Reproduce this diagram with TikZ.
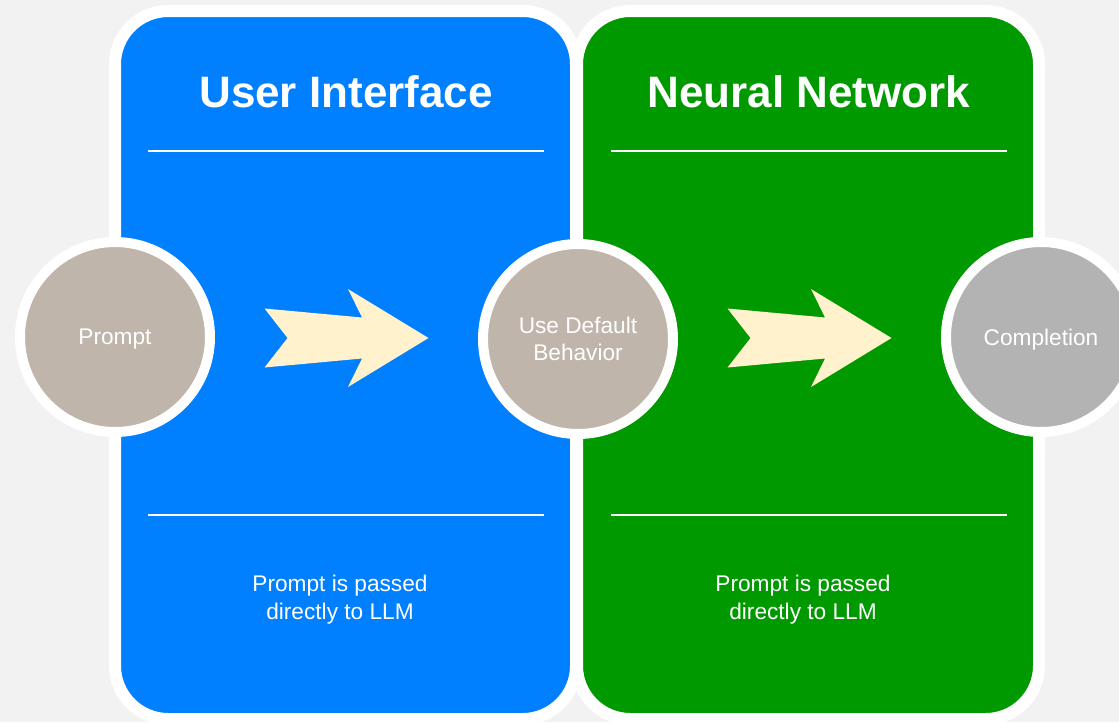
\documentclass[tikz,border=0pt]{standalone}
\usepackage{fontspec}
\setmainfont{Liberation Sans}
\usetikzlibrary{calc}
\definecolor{uiblue}{RGB}{0,127,255}
\definecolor{nngreen}{RGB}{0,153,0}
\definecolor{stone}{RGB}{191,181,171}
\definecolor{ash}{RGB}{179,179,179}
\definecolor{cream}{RGB}{255,242,204}
\definecolor{paper}{RGB}{242,242,242}
\tikzset{
  bigarrow/.pic={
    \fill[cream] (-82,-29.5) -- (-59,0) -- (-82,29.5) -- (15.5,20.5) -- (1.5,49)
      -- (82,0) -- (1.5,-49) -- (15.5,-20.5) -- cycle;
  }
}
\begin{document}
\begin{tikzpicture}[x=0.75pt,y=-0.75pt,
  panel/.style={draw=white,line width=9pt,rounded corners=40pt},
  stage/.style={circle,draw=white,line width=7.5pt,minimum size=142.5pt,inner sep=0pt,
    text=white,align=center,text depth=0pt,font=\fontsize{17}{20}\selectfont},
  title/.style={text=white,font=\fontsize{33}{40}\selectfont\bfseries,anchor=base},
  note/.style={text=white,align=center,font=\fontsize{17}{21}\selectfont},
  divider/.style={white,line width=1.5pt}]
\useasboundingbox (0,0) rectangle (1119,722);
\fill[paper] (0,0) rectangle (1119,722);
\clip (0,0) rectangle (1119,722);

% Panels
\draw[panel,fill=uiblue] (115,11) rectangle (576,719);
\draw[panel,fill=nngreen] (577,11) rectangle (1039,719);

% Panel headings
\node[title] (uititle) at (346,107) {User Interface};
\node[title] (nntitle) at (809,107) {Neural Network};

% Dividers
\foreach \x in {346,809} {
    \draw[divider] (\x-198,151) -- (\x+198,151);
    \draw[divider] (\x-198,515) -- (\x+198,515);
}

% Stages
\node[stage,fill=stone] (prompt) at (115,337) {Prompt};
\node[stage,fill=stone] (default) at (578,339) {Use Default\\Behavior};
\node[stage,fill=ash] (completion) at (1041,337) {Completion};

% Flow arrows
\pic at ($(prompt)!0.5!(default)$) {bigarrow};
\pic at ($(default)!0.5!(completion)$) {bigarrow};

% Notes
\node[note] (uinote) at (340,600) {Prompt is passed\\directly to LLM};
\node[note] (nnnote) at (803,600) {Prompt is passed\\directly to LLM};
\end{tikzpicture}
\end{document}
